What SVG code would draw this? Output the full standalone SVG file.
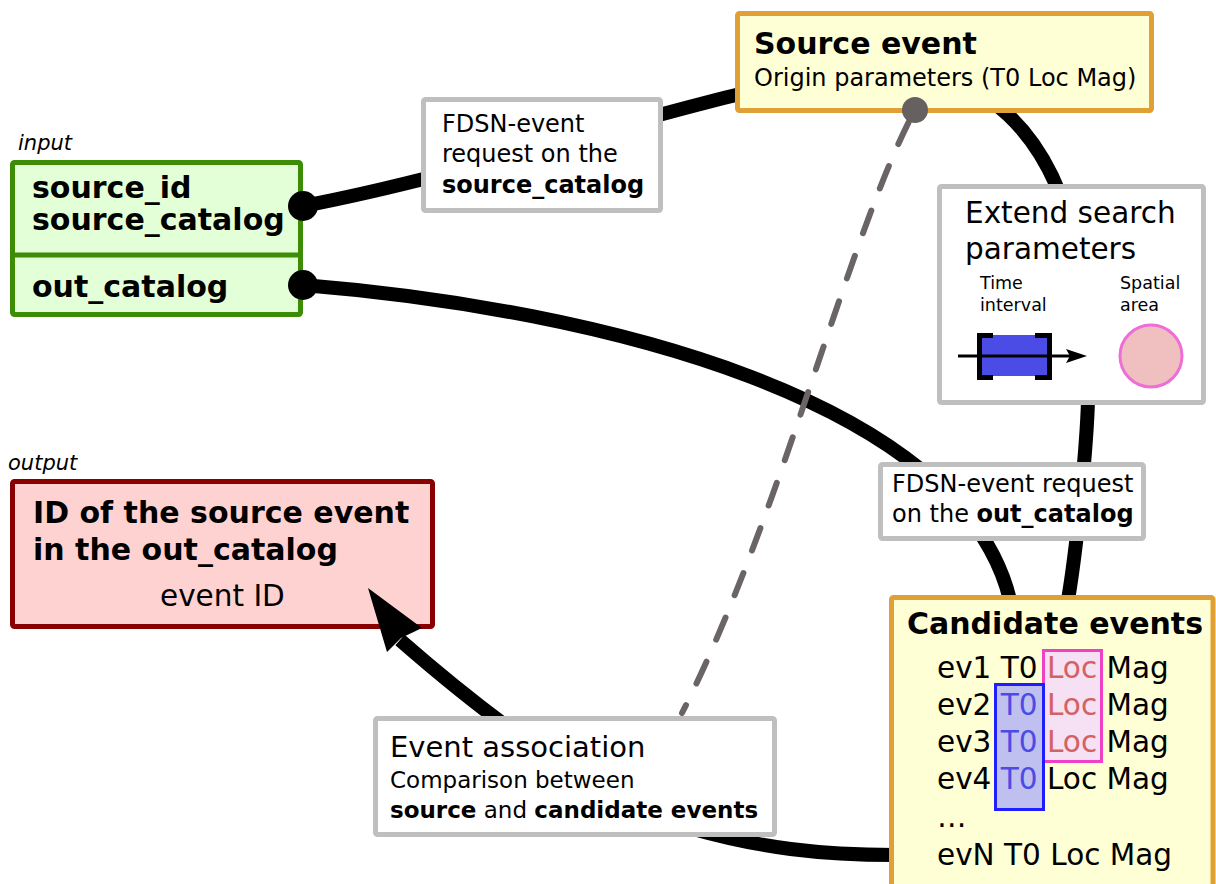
<svg xmlns="http://www.w3.org/2000/svg" width="1216" height="884" viewBox="0 0 1216 884">
<style>
text{font-family:"DejaVu Sans","Liberation Sans",sans-serif;fill:#000}
.b{font-weight:bold}
.lbl{font-style:italic;font-size:21px}
.box{stroke-width:5;stroke-linejoin:round}
.gray{fill:#fff;stroke:#bfbfbf}
.yel{fill:#ffffd5;stroke:#e0a035}
.wire{fill:none;stroke:#000;stroke-width:14}
.big{font-size:30px}
.reg{font-size:29.5px}
.mid{font-size:24px}
.loc{fill:#d46262}
.t0{fill:#4c4ce4}
</style>
<g id="connectors">
<path class="wire" d="M303,206 C450,178 600,128 740,94"/>
<path class="wire" d="M303,285 C600,309 962,400 1010,600"/>
<path class="wire" d="M990,100 C1060,150 1092,250 1088,400 C1087,440 1078,540 1068,600"/>
<path class="wire" d="M895,855 C820,855 760,848 690,828 C620,808 520,745 400,640"/>
</g>
<g id="input">
<text class="lbl" x="18" y="150">input</text>
<rect class="box" x="12.5" y="162.5" width="288" height="152" rx="2" fill="#e2ffd8" stroke="#3c8c06"/>
<line x1="12.5" y1="255" x2="300.5" y2="255" stroke="#3c8c06" stroke-width="5"/>
<text class="b big" x="32" y="198">source_id</text>
<text class="b big" x="32" y="230">source_catalog</text>
<text class="b big" x="32" y="297">out_catalog</text>
</g>
<g id="fdsn-source">
<rect class="box gray" x="423.5" y="99.5" width="237" height="111" rx="2"/>
<text class="mid" x="442" y="132">FDSN-event</text>
<text class="mid" x="442" y="162">request on the</text>
<text class="mid b" x="442" y="193">source_catalog</text>
</g>
<g id="source-event">
<rect class="box yel" x="737.5" y="13.5" width="414" height="97" rx="2"/>
<text class="b big" x="754" y="54">Source event</text>
<text class="mid" x="754" y="86">Origin parameters (T0 Loc Mag)</text>
</g>
<g id="extend">
<rect class="box gray" x="939.5" y="186.5" width="264" height="216" rx="2"/>
<text class="reg" x="965" y="223">Extend search</text>
<text class="reg" x="965" y="259">parameters</text>
<text x="980" y="289" font-size="17.5">Time</text>
<text x="980" y="311" font-size="17.5">interval</text>
<text x="1120" y="289" font-size="17.5">Spatial</text>
<text x="1120" y="311" font-size="17.5">area</text>
<rect x="982" y="335" width="66" height="41" fill="#4b4be6"/>
<path d="M993,335.5 H979.5 V377.5 H993 M1035,335.5 H1049.5 V377.5 H1035" fill="none" stroke="#000" stroke-width="5"/>
<line x1="958" y1="356" x2="1072" y2="356" stroke="#000" stroke-width="3"/>
<polygon points="1087,356 1066,349 1070,356 1066,363" fill="#000"/>
<circle cx="1151" cy="356" r="31" fill="#f0c0c0" stroke="#ee6ed8" stroke-width="3"/>
</g>
<g id="fdsn-out">
<rect class="box gray" x="880.5" y="464.5" width="263" height="74" rx="2"/>
<text class="mid" x="892" y="492">FDSN-event request</text>
<text class="mid" x="892" y="522">on the <tspan class="b">out_catalog</tspan></text>
</g>
<g id="candidates">
<rect class="box yel" x="891.5" y="597.5" width="321.5" height="300" rx="2"/>
<rect x="1043.5" y="650.5" width="58" height="111" fill="#f6e0f4" stroke="#f040c8" stroke-width="3"/>
<rect x="995.5" y="684.5" width="48" height="125" fill="#c0c0f0" stroke="#1e1eff" stroke-width="3"/>
<text class="b big" x="907" y="634">Candidate events</text>
<text class="reg" x="937" y="678">ev1 T0 <tspan class="loc">Loc</tspan> Mag</text>
<text class="reg" x="937" y="715">ev2 <tspan class="t0">T0</tspan> <tspan class="loc">Loc</tspan> Mag</text>
<text class="reg" x="937" y="752">ev3 <tspan class="t0">T0</tspan> <tspan class="loc">Loc</tspan> Mag</text>
<text class="reg" x="937" y="789">ev4 <tspan class="t0">T0</tspan> Loc Mag</text>
<text class="reg" x="937" y="827">…</text>
<text class="reg" x="937" y="865">evN T0 Loc Mag</text>
</g>
<g id="output">
<text class="lbl" x="8" y="470">output</text>
<rect class="box" x="12.5" y="481.5" width="420" height="145" rx="2" fill="#ffd2d2" stroke="#880000"/>
<text class="b big" x="33" y="523">ID of the source event</text>
<text class="b big" x="33" y="560">in the out_catalog</text>
<text class="reg" x="160" y="606">event ID</text>
</g>
<g id="association">
<rect class="box gray" x="375.5" y="718.5" width="399" height="116" rx="2"/>
<text x="390" y="757" font-size="29">Event association</text>
<text x="390" y="788" font-size="23">Comparison between</text>
<text x="390" y="818" font-size="23"><tspan class="b">source</tspan> and <tspan class="b">candidate events</tspan></text>
</g>
<g id="connector-ends">
<polygon points="368,588 422,628 401,638 387,652" fill="#000"/>
<circle cx="303" cy="206" r="15" fill="#000"/>
<circle cx="303" cy="285" r="15" fill="#000"/>
<path d="M915,110 C850,230 780,520 682,713" fill="none" stroke="#6b6464" stroke-width="6" stroke-linecap="round" stroke-dasharray="24,24" stroke-dashoffset="-14"/>
<circle cx="915" cy="110" r="13" fill="#666060"/>
</g>
</svg>
